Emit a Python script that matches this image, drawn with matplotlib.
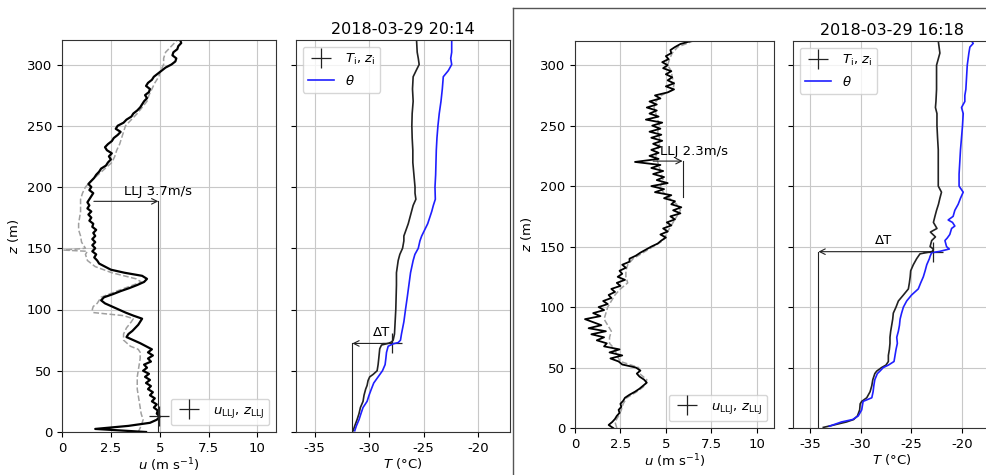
import matplotlib
matplotlib.use('Agg')
import matplotlib.pyplot as plt
from matplotlib.lines import Line2D

plt.rcParams['font.family'] = 'DejaVu Sans'
plt.rcParams['axes.unicode_minus'] = False
plt.rcParams['mathtext.fontset'] = 'dejavusans'

# ---------------- data ----------------
Z_U = [0, 2.5, 5, 7.5, 10, 12.5, 15, 17.5, 20, 22.5,
       25, 27.5, 30, 32.5, 35, 37.5, 40, 42.5, 45, 47.5,
       50, 52.5, 55, 57.5, 60, 62.5, 65, 67.5, 70, 72.5,
       75, 77.5, 80, 82.5, 85, 87.5, 90, 92.5, 95, 97.5,
       100, 102.5, 105, 107.5, 110, 112.5, 115, 117.5, 120, 122.5,
       125, 127.5, 130, 132.5, 135, 137.5, 140, 142.5, 145, 147.5,
       150, 152.5, 155, 157.5, 160, 162.5, 165, 167.5, 170, 172.5,
       175, 177.5, 180, 182.5, 185, 187.5, 190, 192.5, 195, 197.5,
       200, 202.5, 205, 207.5, 210, 212.5, 215, 217.5, 220, 222.5,
       225, 227.5, 230, 232.5, 235, 237.5, 240, 242.5, 245, 247.5,
       250, 252.5, 255, 257.5, 260, 262.5, 265, 267.5, 270, 272.5,
       275, 277.5, 280, 282.5, 285, 287.5, 290, 292.5, 295, 297.5,
       300, 302.5, 305, 307.5, 310, 312.5, 315, 317.5, 320]

# 20:14 wind profile (black)
U_2014 = [4.3, 1.7, 3.4, 4.5, 4.85, 5.0, 4.85, 4.9, 4.7, 4.85,
          4.6, 4.75, 4.5, 4.65, 4.4, 4.55, 4.3, 4.5, 4.25, 4.45,
          4.15, 4.35, 4.2, 4.55, 4.4, 4.65, 4.4, 4.6, 4.3, 4.0,
          3.65, 3.3, 3.4, 3.6, 3.75, 3.9, 4.0, 4.1, 3.65, 3.25,
          2.9, 2.55, 2.2, 2.0, 2.15, 2.6, 3.0, 3.45, 3.85, 4.2,
          4.35, 4.1, 3.2, 2.5, 2.2, 1.9, 1.8, 1.65, 1.75, 1.55,
          1.7, 1.55, 1.7, 1.55, 1.7, 1.6, 1.75, 1.55, 1.6, 1.4,
          1.5, 1.35, 1.5, 1.3, 1.4, 1.3, 1.4, 1.5, 1.6, 1.4,
          1.5, 1.35, 1.5, 1.65, 1.75, 1.9, 2.0, 2.25, 2.35, 2.5,
          2.4, 2.55, 2.3, 2.2, 2.35, 2.55, 2.65, 2.85, 3.0, 2.75,
          2.85, 3.15, 3.3, 3.55, 3.65, 3.85, 4.0, 4.1, 4.2, 4.35,
          4.25, 4.45, 4.5, 4.3, 4.4, 4.6, 4.7, 4.9, 5.1, 5.3,
          5.6, 5.8, 5.85, 5.65, 5.7, 5.9, 5.95, 6.1, 6.05]

# 20:14 second wind profile (grey dashed)
Z_G_2014 = [0, 5, 10, 15, 20, 25, 30, 35, 40, 45,
            50, 55, 60, 65, 67.5, 70, 75, 80, 85, 90,
            92.5, 95, 97.5, 100, 102.5, 105, 110, 115, 120, 122.5,
            125, 130, 135, 140, 145, 147.5, 148.5, 150, 155, 160,
            165, 170, 175, 180, 185, 190, 195, 200, 205, 210,
            215, 220, 225, 230, 235, 240, 245, 250, 255, 260,
            265, 270, 275, 280, 285, 290, 295, 300, 305, 310,
            315, 320]
G_2014 = [3.9, 4.05, 4.15, 4.05, 4.0, 3.95, 3.9, 3.85, 3.85, 3.85,
          3.9, 3.95, 4.0, 4.0, 3.9, 3.5, 3.15, 3.15, 3.3, 3.55,
          3.65, 3.15, 1.6, 1.55, 1.6, 1.8, 2.0, 2.8, 3.65, 4.05,
          3.8, 2.55, 1.7, 1.3, 1.2, 1.3, 0.1, 1.2, 1.0, 0.95,
          0.85, 0.85, 0.9, 0.95, 0.95, 0.95, 1.05, 1.2, 1.5, 1.85,
          2.2, 2.55, 2.7, 2.8, 2.95, 3.05, 3.15, 3.25, 3.55, 3.85,
          4.1, 4.35, 4.45, 4.6, 4.75, 4.95, 5.05, 5.2, 5.2, 5.3,
          5.6, 5.9]

# 16:18 wind profile (black)
U_1618 = [2.1, 1.85, 2.05, 2.2, 2.3, 2.45, 2.4, 2.55, 2.5, 2.65,
          2.75, 3.0, 3.3, 3.55, 3.75, 3.95, 3.8, 3.55, 3.4, 3.6,
          3.35, 2.6, 2.4, 1.95, 2.6, 1.9, 2.45, 1.6, 1.75, 1.2,
          1.6, 0.9, 1.7, 0.75, 1.45, 1.0, 0.55, 1.4, 1.0, 1.6,
          1.3, 1.8, 1.55, 2.0, 1.85, 2.2, 2.0, 2.5, 2.3, 2.75,
          2.35, 2.6, 2.45, 2.8, 2.6, 3.0, 3.0, 3.35, 3.6, 3.9,
          4.2, 4.55, 4.75, 5.0, 4.7, 5.1, 4.85, 5.3, 5.05, 5.5,
          5.25, 5.8, 5.4, 5.85, 5.3, 5.5, 4.9, 5.3, 4.4, 4.9,
          4.2, 5.1, 4.5, 4.9, 4.3, 4.85, 4.2, 4.7, 3.3, 4.6,
          4.1, 4.6, 4.2, 4.7, 4.3, 4.8, 4.2, 4.75, 4.1, 4.7,
          4.25, 4.8, 3.9, 4.6, 4.1, 4.5, 3.95, 4.5, 4.1, 4.7,
          4.4, 5.1, 5.45, 5.0, 5.45, 5.1, 5.35, 5.0, 5.3, 4.85,
          5.1, 4.8, 5.15, 5.0, 5.3, 5.25, 5.5, 5.8, 6.4]

Z_G_1618 = [0, 5, 10, 15, 20, 25, 30, 35, 40, 45,
            50, 55, 60, 65, 70, 75, 80, 85, 90, 95,
            100, 105, 110, 115, 120, 125, 130, 135, 140, 145,
            150, 155, 160, 165, 170, 175, 180, 185, 190, 195,
            200, 205, 210, 215, 220, 225, 230, 235, 240, 245,
            250, 255, 260, 265, 270, 275, 280, 285, 290, 295,
            300, 305, 310, 315, 320]
G_1618 = [2.3, 2.2, 2.4, 2.55, 2.65, 2.85, 3.4, 3.85, 3.95, 3.55,
          3.5, 2.5, 2.3, 2.2, 1.9, 1.9, 2.0, 1.8, 1.6, 1.7,
          1.8, 2.0, 2.2, 2.5, 2.9, 2.8, 2.8, 2.9, 3.2, 3.75,
          4.3, 4.85, 5.0, 5.2, 5.4, 5.6, 5.8, 5.6, 5.2, 4.85,
          4.7, 4.85, 4.75, 4.65, 4.55, 4.45, 4.55, 4.65, 4.65, 4.55,
          4.65, 4.55, 4.45, 4.35, 4.45, 4.75, 5.4, 5.45, 5.35, 5.3,
          5.1, 5.2, 5.35, 5.65, 6.5]

# 20:14 temperature (black) and potential temperature (blue)
Z_T_2014 = [1, 5, 10, 15, 20, 25, 30, 35, 38, 42, 45, 47, 50, 55, 60, 68,
            71, 72.5, 73.5, 75, 80, 90, 100, 110, 120, 130, 140, 145, 150,
            156, 160, 170, 180, 185, 190, 195, 200, 210, 220, 230, 240,
            250, 260, 270, 280, 290, 295, 300, 305, 310, 320]
T_2014 = [-31.47, -31.32, -31.11, -30.93, -30.8, -30.56, -30.47, -30.32,
          -30.19, -30.1, -29.95, -29.64, -29.27, -29.18, -29.12, -29.03,
          -28.87, -28.2, -27.95, -27.8, -27.68, -27.62, -27.56, -27.53,
          -27.5, -27.5, -27.34, -27.19, -26.94, -26.82, -26.82, -26.42,
          -26.12, -25.97, -25.72, -25.8, -25.8, -25.9, -26.0, -26.0,
          -26.06, -26.09, -26.06, -25.97, -26.03, -25.97, -25.7, -25.42,
          -25.5, -25.6, -25.66]
Z_TH_2014 = [1, 5, 10, 15, 20, 25, 30, 35, 40, 45, 50, 55, 60, 65, 70, 72,
             73, 75, 80, 90, 100, 110, 120, 130, 140, 145, 150, 156, 160,
             170, 180, 185, 190, 200, 210, 220, 230, 240, 250, 260, 270,
             280, 290, 295, 300, 305, 310, 320]
TH_2014 = [-31.32, -31.17, -30.93, -30.75, -30.56, -30.19, -30.01, -29.8,
           -29.58, -29.18, -28.78, -28.54, -28.47, -28.41, -28.26, -27.8,
           -27.34, -27.13, -27.04, -26.82, -26.67, -26.51, -26.36, -26.21,
           -25.97, -25.81, -25.5, -25.35, -25.19, -24.64, -24.27, -24.12,
           -23.94, -23.97, -23.91, -23.88, -23.85, -23.79, -23.7, -23.58,
           -23.42, -23.3, -23.21, -22.75, -22.44, -22.53, -22.44, -22.44]

# 16:18 temperature (black) and potential temperature (blue)
Z_T_1618 = [0.5, 2, 5, 7, 10, 15, 20, 22, 25, 30, 35, 40, 45, 47, 50, 52,
            55, 60, 65, 70, 75, 80, 85, 90, 95, 100, 105, 110, 115, 120,
            125, 130, 135, 140, 144, 146, 148, 150, 155, 158, 162, 165,
            170, 175, 180, 185, 190, 195, 200, 210, 220, 230, 240, 250,
            260, 265, 270, 280, 290, 300, 310, 320]
T_1618 = [-33.7, -32.9, -31.4, -30.7, -30.32, -30.1, -30.05, -29.9, -29.4,
          -29.07, -28.9, -28.8, -28.6, -28.42, -27.93, -27.5, -27.26,
          -27.26, -27.16, -27.1, -27.1, -27.03, -26.93, -26.83, -26.77,
          -26.5, -26.27, -25.77, -25.28, -25.18, -25.1, -25.05, -24.79,
          -24.46, -24.13, -22.9, -22.8, -23.13, -22.97, -22.6, -23.1,
          -22.45, -22.8, -22.65, -22.49, -22.3, -22.16, -22.0, -22.32,
          -22.32, -22.32, -22.32, -22.39, -22.45, -22.45, -22.6, -22.55,
          -22.49, -22.49, -22.49, -22.16, -22.32]
Z_TH_1618 = [1.5, 5, 7, 10, 15, 20, 22, 25, 30, 35, 40, 45, 47, 50, 52, 55,
             60, 65, 70, 75, 80, 85, 90, 95, 100, 105, 110, 115, 120, 125,
             130, 135, 140, 142, 145, 146, 148, 150, 155, 157, 160, 165,
             167, 170, 172, 175, 180, 185, 190, 195, 200, 210, 220, 230,
             240, 250, 260, 265, 270, 275, 280, 290, 300, 310, 315, 318, 320]
TH_1618 = [-33.1, -31.9, -30.8, -30.24, -29.9, -29.8, -29.76, -28.9, -28.77,
           -28.7, -28.6, -28.35, -28.1, -27.76, -27.26, -26.7, -26.6, -26.5,
           -26.37, -26.43, -26.27, -26.16, -26.1, -25.95, -25.77, -25.45,
           -24.96, -24.3, -24.06, -23.8, -23.62, -23.46, -23.2, -23.13,
           -22.97, -22.2, -21.23, -21.5, -21.66, -21.44, -21.18, -21.0,
           -20.68, -20.91, -21.34, -20.85, -20.68, -20.35, -20.12, -19.85,
           -20.26, -20.26, -20.19, -20.12, -20.02, -19.92, -19.85, -20.02,
           -19.69, -19.69, -19.59, -19.52, -19.45, -19.29, -19.19, -18.86,
           -19.02]

# annotations (LLJ and inversion)
LLJ_2014 = {'u_start': 1.63, 'u_max': 4.93, 'z': 188.3, 'z_low': 0.0, 'label': 'LLJ 3.7m/s'}
LLJ_MARK_2014 = (4.97, 13.0)
LLJ_1618 = {'u_start': 4.3, 'u_max': 5.92, 'z': 220.7, 'z_low': 191.3, 'label': 'LLJ 2.3m/s'}
INV_2014 = {'T_low': -31.54, 'T_i': -27.95, 'z_i': 72.3}
INV_1618 = {'T_low': -34.18, 'T_i': -22.8, 'z_i': 145.8}

TITLES = ['2018-03-29 20:14', '2018-03-29 16:18']
U_TICKS = [0, 2.5, 5, 7.5, 10]
U_TICKLABELS = ['0', '2.5', '5', '7.5', '10']
T_TICKS = [-35, -30, -25, -20]
Z_TICKS = [0, 50, 100, 150, 200, 250, 300]

# ---------------- figure ----------------
W, H = 987, 475
FS = 9.5
fig = plt.figure(figsize=(W / 100, H / 100), dpi=100)


def px_axes(x0, y0, x1, y1):
    return fig.add_axes([x0 / W, 1 - y1 / H, (x1 - x0) / W, (y1 - y0) / H])


ax1 = px_axes(62, 40, 276, 432)
ax2 = px_axes(296, 40, 510, 432)
ax3 = px_axes(575, 41, 774, 428)
ax4 = px_axes(793, 41, 991, 428)

ARROW = dict(arrowstyle='->', lw=0.8, color='#222222', shrinkA=0, shrinkB=0,
             mutation_scale=10)


def style(ax):
    ax.set_ylim(0, 320)
    ax.set_yticks(Z_TICKS)
    ax.grid(True, color='#c8c8c8', lw=0.8)
    ax.set_axisbelow(True)
    ax.tick_params(labelsize=FS)
    for s in ax.spines.values():
        s.set_color('#333333')


def u_panel(ax, u, zu, g, zg, llj, text_xy, lw, mark=None):
    ax.plot(g, zg, color='#a0a0a0', ls='--', lw=1.1)
    ax.plot(u, zu, color='k', lw=lw)
    ax.annotate('', xy=(llj['u_max'], llj['z']), xytext=(llj['u_start'], llj['z']),
                arrowprops=ARROW)
    ax.plot([llj['u_max'], llj['u_max']], [llj['z'], llj['z_low']], color='#222222', lw=0.8)
    ax.text(text_xy[0], text_xy[1], llj['label'], ha='center', va='center', fontsize=FS)
    lab = r'$u_\mathrm{LLJ}$, $z_\mathrm{LLJ}$'
    if mark is not None:
        h, = ax.plot([mark[0]], [mark[1]], ls='none', marker='+', ms=14, mew=0.9,
                     color='#222222', label=lab)
    else:
        h = Line2D([], [], ls='none', marker='+', ms=14, mew=0.9, color='#222222', label=lab)
    ax.legend(handles=[h], loc='lower right', fontsize=FS)
    ax.set_xlim(0, 10.95)
    ax.set_xticks(U_TICKS)
    ax.set_xticklabels(U_TICKLABELS)
    style(ax)
    ax.set_xlabel(r'$u$ (m s$^{-1}$)', fontsize=FS, labelpad=1)
    ax.set_ylabel(r'$z$ (m)', fontsize=FS)


def t_panel(ax, t, zt, th, zth, inv, text_xy, title):
    ax.plot(t, zt, color='#222222', lw=1.2)
    h1, = ax.plot([inv['T_i']], [inv['z_i']], ls='none', marker='+', ms=14, mew=0.9,
                  color='#222222', label=r'$T_\mathrm{i}$, $z_\mathrm{i}$')
    h2, = ax.plot(th, zth, color='#1f1fff', lw=1.2, label=r'$\theta$')
    ax.annotate('', xy=(inv['T_low'], inv['z_i']), xytext=(inv['T_i'], inv['z_i']),
                arrowprops=ARROW)
    ax.plot([inv['T_low'], inv['T_low']], [inv['z_i'], 0], color='#222222', lw=0.8)
    ax.text(text_xy[0], text_xy[1], '\u0394T', ha='center', va='center', fontsize=FS)
    ax.legend(handles=[h1, h2], loc='upper left', fontsize=FS)
    ax.set_xlim(-36.7, -17.1)
    ax.set_xticks(T_TICKS)
    style(ax)
    ax.tick_params(labelleft=False)
    ax.set_xlabel(r'$T$ (°C)', fontsize=FS, labelpad=1)
    ax.set_title(title, fontsize=11.5, pad=4)


u_panel(ax1, U_2014, Z_U, G_2014, Z_G_2014, LLJ_2014, (4.9, 196.5), 1.6, LLJ_MARK_2014)
t_panel(ax2, T_2014, Z_T_2014, TH_2014, Z_TH_2014, INV_2014, (-28.9, 81.5), TITLES[0])
u_panel(ax3, U_1618, Z_U, G_1618, Z_G_1618, LLJ_1618, (6.54, 229), 1.3)
t_panel(ax4, T_1618, Z_T_1618, TH_1618, Z_TH_1618, INV_1618, (-27.7, 155), TITLES[1])

# frame around the second figure
fig.add_artist(Line2D([513 / W, 513 / W], [1 - 8 / H, 0], transform=fig.transFigure,
                      color='#555555', lw=1))
fig.add_artist(Line2D([513 / W, 1], [1 - 8 / H, 1 - 8 / H], transform=fig.transFigure,
                      color='#555555', lw=1))

fig.savefig('out.png', dpi=100)
